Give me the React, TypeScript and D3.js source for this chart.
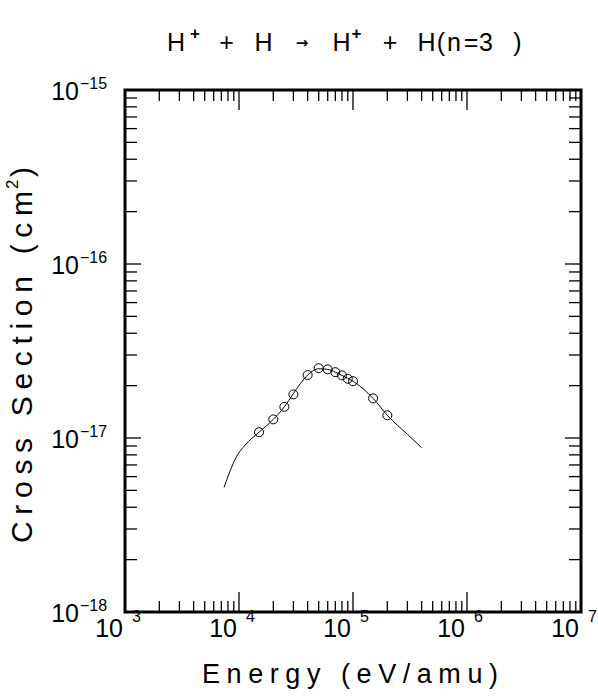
import React from "react";
import * as d3 from "d3";

// ---- data ----
const curveEnergy = [7.4e3, 8.3e3, 9.5e3, 1.13e4, 1.5e4, 2e4, 2.5e4, 3e4, 4e4, 5e4, 6e4, 7e4, 8e4, 9e4, 1e5, 1.5e5, 2e5, 3e5, 4e5];
const curveSigma = [5.2e-18, 6.4e-18, 7.8e-18, 9.1e-18, 1.08e-17, 1.28e-17, 1.51e-17, 1.8e-17, 2.3e-17, 2.5e-17, 2.48e-17, 2.39e-17, 2.29e-17, 2.2e-17, 2.12e-17, 1.69e-17, 1.35e-17, 1.05e-17, 8.8e-18];
const pointEnergy = [1.5e4, 2e4, 2.5e4, 3e4, 4e4, 5e4, 6e4, 7e4, 8e4, 9e4, 1e5, 1.5e5, 2e5];
const pointSigma = [1.08e-17, 1.28e-17, 1.51e-17, 1.78e-17, 2.3e-17, 2.52e-17, 2.48e-17, 2.39e-17, 2.29e-17, 2.19e-17, 2.12e-17, 1.69e-17, 1.35e-17];
const xDecades = [3, 4, 5, 6, 7];
const yDecades = [-18, -17, -16, -15];
const xTitle = "Energy (eV/amu)";
const yTitle = "Cross Section (cm";
const yTitleSup = "2";

const FONT = "'Liberation Sans', Arial, sans-serif";

export default function App() {
  const W = 598, H = 696;
  const L = 125, R = 581, T = 90, B = 612;
  const x = d3.scaleLog().domain([1e3, 1e7]).range([L, R]);
  const y = d3.scaleLog().domain([1e-18, 1e-15]).range([B, T]);

  const xTicks: { v: number; major: boolean }[] = [];
  for (let d = 3; d < 7; d++) for (let k = 1; k < 10; k++) xTicks.push({ v: k * Math.pow(10, d), major: k === 1 });
  const yTicks: { v: number; major: boolean }[] = [];
  for (let d = -18; d < -15; d++) for (let k = 1; k < 10; k++) yTicks.push({ v: k * Math.pow(10, d), major: k === 1 });

  const line = d3
    .line<number>()
    .x((_, i) => x(curveEnergy[i]))
    .y((_, i) => y(curveSigma[i]))
    .curve(d3.curveMonotoneX);

  const titleTokens = [
    { t: "H", cx: 176, kind: "n" },
    { t: "+", cx: 195, kind: "sup" },
    { t: "+", cx: 226.5, kind: "n" },
    { t: "H", cx: 263.5, kind: "n" },
    { t: "→", cx: 302, kind: "arrow" },
    { t: "H", cx: 341.5, kind: "n" },
    { t: "+", cx: 356.5, kind: "sup" },
    { t: "+", cx: 390, kind: "n" },
    { t: "H", cx: 426.5, kind: "n" },
    { t: "(", cx: 441, kind: "n" },
    { t: "n", cx: 454, kind: "n" },
    { t: "=", cx: 471, kind: "n" },
    { t: "3", cx: 486, kind: "n" },
    { t: ")", cx: 517.5, kind: "n" },
  ];

  return (
    <svg width={W} height={H} style={{ position: "absolute", left: 0, top: 0, background: "#fff" }} fontFamily={FONT}>
      <rect x={0} y={0} width={W} height={H} fill="#fff" />
      {/* title */}
      {titleTokens.map((tk, i) => (
        <text
          key={i}
          x={tk.cx}
          y={tk.kind === "sup" ? 39 : tk.kind === "arrow" ? 48 : 50.5}
          textAnchor="middle"
          fontSize={tk.kind === "sup" ? 17 : tk.kind === "arrow" ? 15 : 25}
          fontWeight={tk.kind === "n" ? "normal" : "bold"}
          fontFamily={tk.kind === "arrow" ? "'DejaVu Sans', sans-serif" : FONT}
          fill="#000"
        >
          {tk.t}
        </text>
      ))}

      {/* ticks */}
      <g stroke="#000" strokeWidth={1.3}>
        {xTicks.map((tk, i) => {
          const len = tk.major ? 20 : 11;
          const px = x(tk.v);
          return (
            <g key={"x" + i}>
              <line x1={px} x2={px} y1={B} y2={B - len} />
              <line x1={px} x2={px} y1={T} y2={T + len} />
            </g>
          );
        })}
        {yTicks.map((tk, i) => {
          const len = tk.major ? 16 : 12;
          const py = y(tk.v);
          return (
            <g key={"y" + i}>
              <line x1={L} x2={L + len} y1={py} y2={py} />
              <line x1={R} x2={R - len} y1={py} y2={py} />
            </g>
          );
        })}
      </g>
      <rect x={L} y={T} width={R - L} height={B - T} fill="none" stroke="#000" strokeWidth={3} />

      {/* x tick labels */}
      {xDecades.map((d) => {
        const px = x(Math.pow(10, d));
        return (
          <g key={"xl" + d} fill="#000">
            <text x={px - 2} y={637} textAnchor="end" fontSize={25}>10</text>
            <text x={px + 7} y={622} textAnchor="start" fontSize={16}>{d}</text>
          </g>
        );
      })}
      {/* y tick labels */}
      {yDecades.map((d) => {
        const py = y(Math.pow(10, d));
        return (
          <g key={"yl" + d} fill="#000">
            <text x={79} y={py + 10} textAnchor="end" fontSize={25}>10</text>
            <text x={80} y={py - 1} textAnchor="start" fontSize={16}>{"−" + Math.abs(d)}</text>
          </g>
        );
      })}

      {/* axis titles */}
      <text x={202} y={683} fontSize={27} textLength={296} lengthAdjust="spacing" fill="#000">
        {xTitle}
      </text>
      <g transform="translate(32,543) rotate(-90)">
        <text x={0} y={0} fontSize={30} fill="#000" textLength={352} lengthAdjust="spacing">
          {yTitle}
        </text>
        <text x={354} y={-14} fontSize={17} fill="#000">{yTitleSup}</text>
        <text x={366} y={0} fontSize={30} fill="#000">)</text>
      </g>

      {/* curve */}
      <path d={line(curveEnergy) || ""} fill="none" stroke="#000" strokeWidth={1} />
      {/* points */}
      {pointEnergy.map((e, i) => (
        <circle key={"p" + i} cx={x(e)} cy={y(pointSigma[i])} r={4.5} fill="none" stroke="#000" strokeWidth={1} />
      ))}
    </svg>
  );
}
